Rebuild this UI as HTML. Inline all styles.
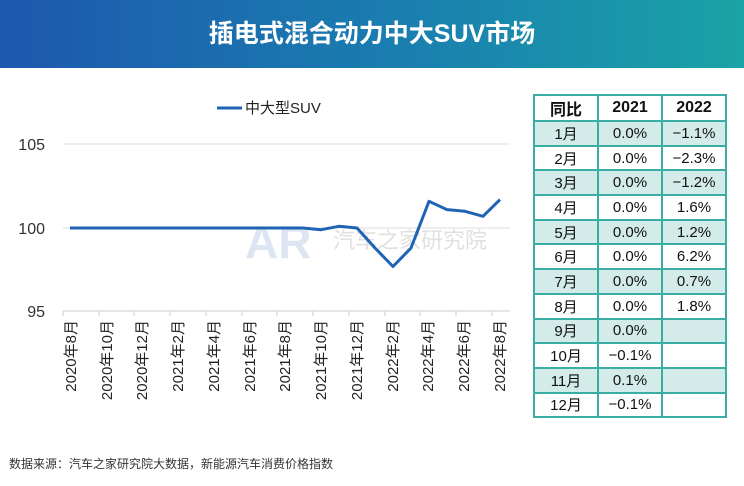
<!DOCTYPE html>
<html><head><meta charset="utf-8"><style>
body{margin:0;width:744px;height:486px;background:#fff;font-family:"Liberation Sans","Noto Sans CJK SC",sans-serif;position:relative;overflow:hidden}
.hd{position:absolute;left:0;top:0;width:744px;height:68px;background:linear-gradient(90deg,#1d58ad,#1a7fb0 55%,#1aa3a6);color:#fff;font-size:25px;font-weight:bold;text-align:center;line-height:68px}
table{position:absolute;left:533px;top:94px;border-collapse:collapse;font-size:15px;color:#111}
td{border:2px solid #3aaea5;width:62px;height:22.7px;padding:0;text-align:center}
tr.h td{height:24px;font-weight:bold;font-size:16px}
tr.s td{background:#d3ebe9}
.src{position:absolute;left:9px;top:455px;font-size:12px;color:#333}
</style></head><body>
<div class="hd">插电式混合动力中大SUV市场</div>
<svg width="744" height="486" style="position:absolute;left:0;top:0">
<line x1="63" y1="144" x2="510" y2="144" stroke="#ddd"/>
<line x1="63" y1="228" x2="510" y2="228" stroke="#ddd"/>
<line x1="63" y1="311" x2="510" y2="311" stroke="#ccc"/>
<g stroke="#ccc">
<line x1="63" y1="311" x2="63" y2="316"/><line x1="99" y1="311" x2="99" y2="316"/><line x1="134" y1="311" x2="134" y2="316"/><line x1="170" y1="311" x2="170" y2="316"/><line x1="206" y1="311" x2="206" y2="316"/><line x1="242" y1="311" x2="242" y2="316"/><line x1="277" y1="311" x2="277" y2="316"/><line x1="313" y1="311" x2="313" y2="316"/><line x1="349" y1="311" x2="349" y2="316"/><line x1="385" y1="311" x2="385" y2="316"/><line x1="420" y1="311" x2="420" y2="316"/><line x1="456" y1="311" x2="456" y2="316"/><line x1="492" y1="311" x2="492" y2="316"/>
</g>
<g font-size="16" fill="#333" text-anchor="end"><text x="45" y="150">105</text><text x="45" y="234">100</text><text x="45" y="317">95</text></g>
<text x="245" y="258" font-size="46" font-weight="bold" fill="#c9d4ea" opacity="0.6">AR</text>
<text x="333" y="248" font-size="22" fill="#ccc" opacity="0.6">汽车之家研究院</text>
<line x1="217" y1="108" x2="242" y2="108" stroke="#1f64b4" stroke-width="3"/>
<text x="245" y="113" font-size="15" fill="#222">中大型SUV</text>
<polyline fill="none" stroke="#1f64b4" stroke-width="3" stroke-linejoin="round" points="70,228 303,228 321,229.7 339,226.3 357,228 375,248 393,266.5 411,248 429,201.3 447,209.6 465,211.3 483,216.3 500,199.6"/>
<g font-size="15" fill="#222" text-anchor="end">
<text transform="translate(76,320) rotate(-90)">2020年8月</text>
<text transform="translate(112,320) rotate(-90)">2020年10月</text>
<text transform="translate(147,320) rotate(-90)">2020年12月</text>
<text transform="translate(183,320) rotate(-90)">2021年2月</text>
<text transform="translate(219,320) rotate(-90)">2021年4月</text>
<text transform="translate(255,320) rotate(-90)">2021年6月</text>
<text transform="translate(290,320) rotate(-90)">2021年8月</text>
<text transform="translate(326,320) rotate(-90)">2021年10月</text>
<text transform="translate(362,320) rotate(-90)">2021年12月</text>
<text transform="translate(398,320) rotate(-90)">2022年2月</text>
<text transform="translate(433,320) rotate(-90)">2022年4月</text>
<text transform="translate(469,320) rotate(-90)">2022年6月</text>
<text transform="translate(505,320) rotate(-90)">2022年8月</text>
</g>
</svg>
<table>
<tr class="h"><td>同比</td><td>2021</td><td>2022</td></tr>
<tr class="s"><td>1月</td><td>0.0%</td><td>−1.1%</td></tr>
<tr><td>2月</td><td>0.0%</td><td>−2.3%</td></tr>
<tr class="s"><td>3月</td><td>0.0%</td><td>−1.2%</td></tr>
<tr><td>4月</td><td>0.0%</td><td>1.6%</td></tr>
<tr class="s"><td>5月</td><td>0.0%</td><td>1.2%</td></tr>
<tr><td>6月</td><td>0.0%</td><td>6.2%</td></tr>
<tr class="s"><td>7月</td><td>0.0%</td><td>0.7%</td></tr>
<tr><td>8月</td><td>0.0%</td><td>1.8%</td></tr>
<tr class="s"><td>9月</td><td>0.0%</td><td></td></tr>
<tr><td>10月</td><td>−0.1%</td><td></td></tr>
<tr class="s"><td>11月</td><td>0.1%</td><td></td></tr>
<tr><td>12月</td><td>−0.1%</td><td></td></tr>
</table>
<div class="src">数据来源：汽车之家研究院大数据，新能源汽车消费价格指数</div>
</body></html>
